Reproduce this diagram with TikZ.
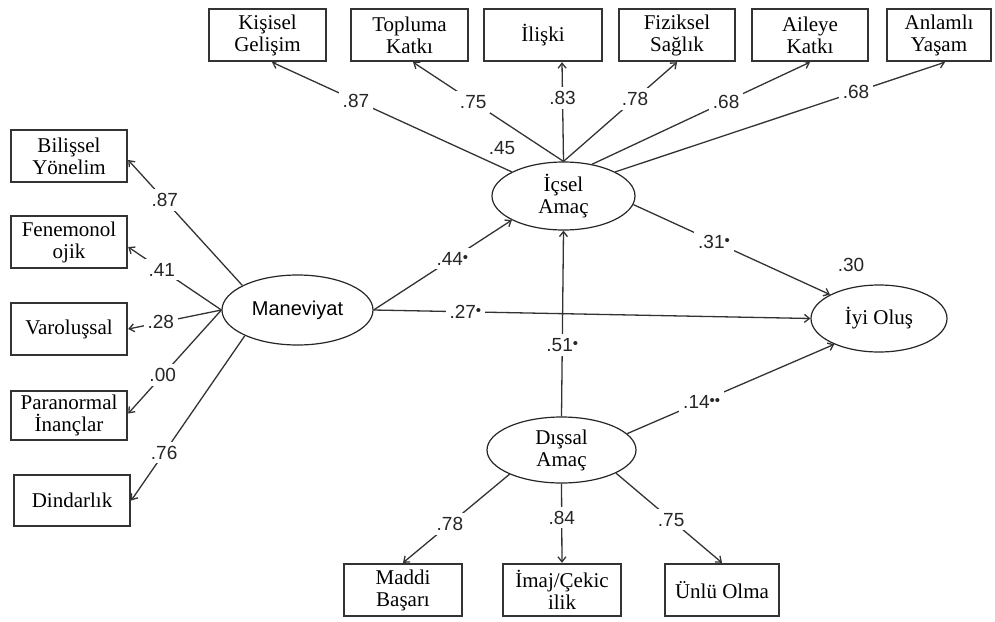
\documentclass[tikz,border=0pt]{standalone}
\usepackage{fontspec}
\setmainfont{Liberation Serif}
\newfontfamily\arialf{Liberation Sans}
\usetikzlibrary{shapes.geometric,arrows.meta,calc}
\begin{document}
\begin{tikzpicture}[x=1pt,y=-1pt,
  box/.style={draw=black!80, line width=2.4pt, fill=white, align=center, inner sep=0pt,
    minimum height=52pt, font=\fontsize{21}{22}\selectfont, text=black},
  lat/.style={ellipse, draw=black!85, line width=1.2pt, fill=white, align=center, inner sep=0pt,
    font=\fontsize{21}{22}\selectfont, text=black},
  conn/.style={draw=black!80, line width=1.3pt, -{Straight Barb[length=5pt,width=8pt]}},
  lbl/.style={fill=white, font=\arialf\fontsize{19}{20}\selectfont, inner sep=4pt, text=black!85},
  rsq/.style={font=\arialf\fontsize{19}{20}\selectfont, inner sep=0pt, text=black!85},
]
\newcommand{\sig}{\raisebox{.3ex}{\fontsize{15}{15}\selectfont •}}
\useasboundingbox (0,0) rectangle (995,621);

% top indicator boxes
\node[box, minimum width=117pt] (kg) at (267.5,35) {Kişisel\\Gelişim};
\node[box, minimum width=117pt] (tk) at (409.5,35) {Topluma\\Katkı};
\node[box, minimum width=118pt] (il) at (543,35) {İlişki};
\node[box, minimum width=116pt] (fs) at (677,35) {Fiziksel\\Sağlık};
\node[box, minimum width=116pt] (ak) at (810,35) {Aileye\\Katkı};
\node[box, minimum width=104pt] (ay) at (939,35) {Anlamlı\\Yaşam};

% left indicator boxes
\node[box, minimum width=116pt] (bil) at (69,156) {Bilişsel\\Yönelim};
\node[box, minimum width=116pt] (fen) at (69,242) {Fenemonol\\ojik};
\node[box, minimum width=116pt] (var) at (69,329) {Varoluşsal};
\node[box, minimum width=116pt, minimum height=49pt] (par) at (69,415.5) {Paranormal\\İnançlar};
\node[box, minimum width=116pt, minimum height=51pt] (din) at (72,500.5) {Dindarlık};

% bottom indicator boxes
\node[box, minimum width=118pt] (md) at (403,590) {Maddi\\Başarı};
\node[box, minimum width=118pt] (im) at (562,590) {İmaj/Çekic\\ilik};
\node[box, minimum width=114pt] (un) at (722,590) {Ünlü Olma};

% latent variables
\node[lat, minimum width=151pt, minimum height=70pt, font=\arialf\fontsize{20}{22}\selectfont] (man) at (297.5,310) {Maneviyat};
\node[lat, minimum width=143pt, minimum height=68pt] (ic) at (563.5,196) {İçsel\\Amaç};
\node[lat, minimum width=149pt, minimum height=66pt] (dis) at (561.5,450) {Dışsal\\Amaç};
\node[lat, minimum width=136pt, minimum height=67pt] (iyi) at (879,318.5) {İyi Oluş};

% R squared
\node[rsq] (r2ic) at (502,148) {.45};
\node[rsq] (r2iyi) at (851,265) {.30};

% Icsel Amac loadings
\draw[conn] (ic.155) -- node[lbl,pos=0.65]{.87} ([xshift=4.5pt]kg.south);
\draw[conn] (ic.north) -- node[lbl,pos=0.6]{.75} ([xshift=3.5pt]tk.south);
\draw[conn] (ic.north) -- node[lbl,pos=0.64]{.83} ([xshift=19pt]il.south);
\draw[conn] (ic.north) -- node[lbl,pos=0.63]{.78} (fs.south);
\draw[conn] (ic.48) -- node[lbl,pos=0.615]{.68} (ak.south);
\draw[conn] (ic.25) -- node[lbl,pos=0.73]{.68} ([xshift=6pt]ay.south);

% Maneviyat loadings
\draw[conn] (man.156) -- node[lbl,pos=0.68]{.87} ([yshift=-4pt]bil.east);
\draw[conn] (man.west) -- node[lbl,pos=0.64]{.41} ([yshift=-5pt]fen.east);
\draw[conn] (man.west) -- node[lbl,pos=0.65]{.28} (var.east);
\draw[conn] (man.west) -- node[lbl,pos=0.63]{.00} ([yshift=2pt]par.east);
\draw[conn] (man.206) -- node[lbl,pos=0.71]{.76} (din.east);

% Dissal Amac loadings
\draw[conn] (dis.205) -- node[lbl,pos=0.56]{.78} (md.north);
\draw[conn] (dis.south) -- node[lbl,pos=0.43]{.84} (im.north);
\draw[conn] (dis.337) -- node[lbl,pos=0.52]{.75} (un.north);

% structural paths
\draw[conn] (man.east) -- node[lbl,pos=0.57]{.44\sig} (ic.205);
\draw[conn] (man.east) -- node[lbl,pos=0.21]{.27\sig} (iyi.west);
\draw[conn] (ic.-7) -- node[lbl,pos=0.41]{.31\sig} (iyi.154);
\draw[conn] (dis.north) -- node[lbl,pos=0.385]{.51\sig} (ic.south);
\draw[conn] (dis.14) -- node[lbl,pos=0.36]{.14\sig\sig} (iyi.210);
\end{tikzpicture}
\end{document}
